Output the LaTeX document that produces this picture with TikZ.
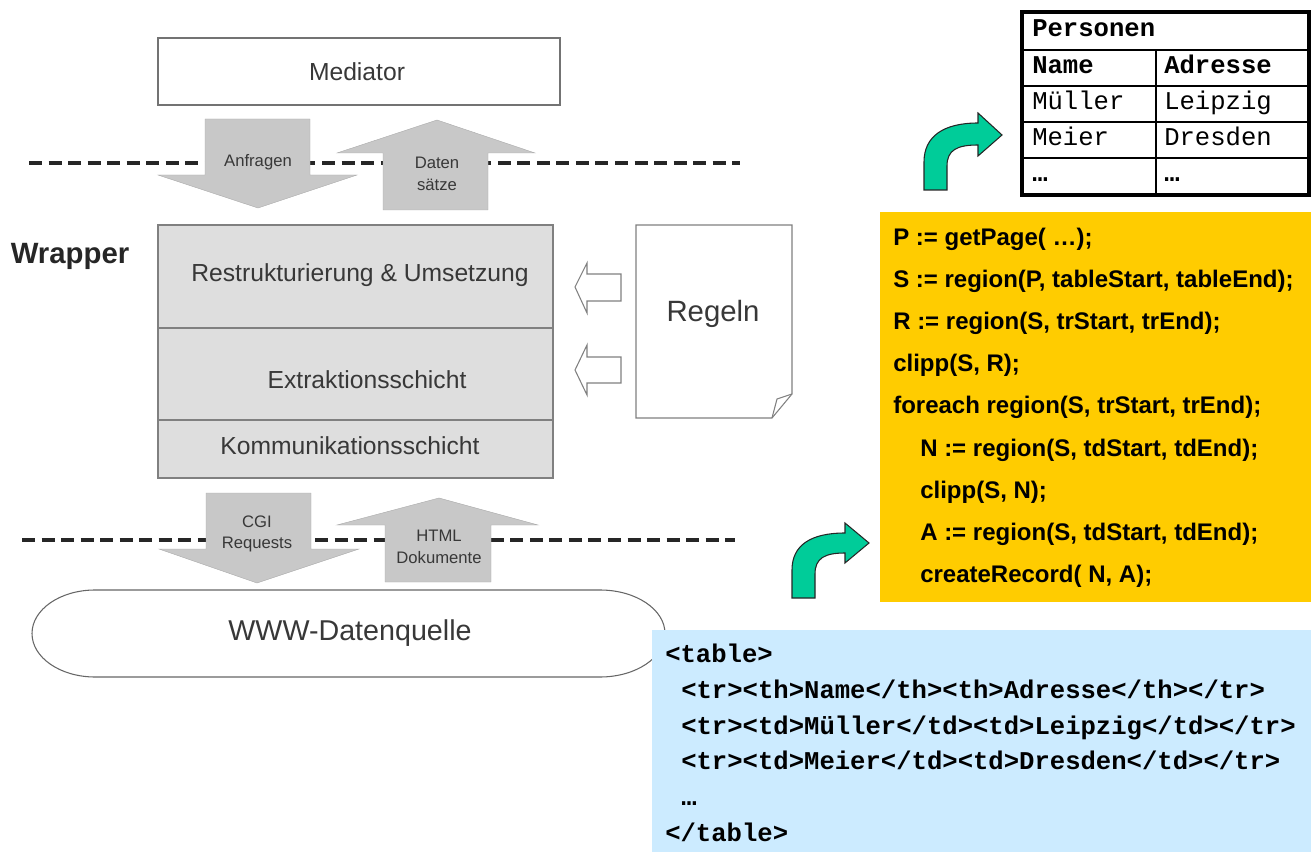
\documentclass[tikz,border=0pt]{standalone}
\usepackage{fontspec}
\setmainfont{Liberation Sans}
\setmonofont{Liberation Mono}
\definecolor{boxgray}{HTML}{DEDEDE}
\definecolor{arrowgray}{HTML}{C8C8C8}
\definecolor{codeyellow}{HTML}{FFCC00}
\definecolor{htmlblue}{HTML}{CCEBFF}
\definecolor{turngreen}{HTML}{00CC99}
\definecolor{labelgray}{HTML}{383838}
\tikzset{
  boxlabel/.style={text=labelgray,inner sep=0pt,font=\fontsize{18.5}{22}\selectfont},
  arrowlabel/.style={text=labelgray,inner sep=0pt,align=center,font=\fontsize{12.5}{16}\selectfont},
  blockarrow/.style={fill=arrowgray,draw=arrowgray!85!black,line width=0.3pt},
  hollowarrow/.style={fill=white,draw=gray,line width=0.8pt},
  turnarrow/.style={fill=turngreen,draw=black!85,line width=0.8pt},
  sepline/.style={line width=3pt,dash pattern=on 9.75pt off 4.9pt,black!85},
  codeline/.style={anchor=west,inner sep=0pt,text height=13pt,text depth=4pt,
    font=\bfseries\fontsize{18}{20}\selectfont},
  htmlline/.style={anchor=west,inner sep=0pt,text height=12pt,text depth=4pt,
    font=\ttfamily\bfseries\fontsize{19.2}{21}\selectfont},
  cell/.style={anchor=west,inner sep=0pt,text height=12pt,text depth=4pt,
    font=\ttfamily\fontsize{19.2}{21}\selectfont}
}
\begin{document}
\begin{tikzpicture}[x=0.75pt,y=-0.75pt]
\useasboundingbox (0,0) rectangle (1311,852);
% mediator and wrapper layers
\draw[gray!90!black,line width=0.8pt] (158,38) rectangle (560,105);
\node[boxlabel] (mediator) at (357,72) {Mediator};
\draw[gray,line width=0.8pt,fill=boxgray] (158,225) rectangle (553,478);
\draw[gray,line width=0.8pt] (158,328) -- (553,328) (158,420) -- (553,420);
\node[boxlabel] (restr) at (360,275) {Restrukturierung \& Umsetzung};
\node[boxlabel] (extr) at (367,380) {Extraktionsschicht};
\node[boxlabel] (komm) at (350,446) {Kommunikationsschicht};
\node[text=black!85,inner sep=0pt,font=\bfseries\fontsize{22}{26}\selectfont] (wrapper) at (70,256) {Wrapper};
% separators
\draw[sepline] (29,163) -- (740,163);
\draw[sepline] (22,540) -- (735,540);
% block arrows
\draw[blockarrow] (205,119) -- (310,119) -- (310,175) -- (357,175) -- (258,208)
  -- (158,175) -- (205,175) -- cycle;
\draw[blockarrow] (437,120) -- (535,153) -- (488,153) -- (488,210) -- (383,210)
  -- (383,153) -- (337,153) -- cycle;
\draw[blockarrow] (206,493) -- (311,493) -- (311,549) -- (359,549) -- (257,583)
  -- (159,549) -- (206,549) -- cycle;
\draw[blockarrow] (439,498) -- (538,525) -- (491,525) -- (491,582) -- (385,582)
  -- (385,525) -- (337,525) -- cycle;
\node[arrowlabel] (anfragen) at (258,162) {Anfragen};
\node[arrowlabel] (daten) at (437,174) {Daten\\sätze};
\node[arrowlabel] (cgi) at (257,534) {CGI\\Requests};
\node[arrowlabel] (html) at (439,547) {HTML\\Dokumente};
% data source
\draw[gray!80!black,line width=0.8pt] (95,590) -- (600,590)
  arc[start angle=-90,end angle=90,x radius=65,y radius=43.5] -- (95,677)
  arc[start angle=90,end angle=270,x radius=63,y radius=43.5];
\node[text=labelgray,inner sep=0pt,font=\fontsize{21.5}{24}\selectfont] (www) at (350,633) {WWW-Datenquelle};
% rules document
\draw[gray,line width=0.8pt,fill=white] (636,225) -- (792,225) -- (792,394) -- (772,418)
  -- (636,418) -- cycle;
\draw[gray,line width=0.8pt] (772,418) -- (777,399) -- (792,394);
\node[text=labelgray,inner sep=0pt,font=\fontsize{22}{26}\selectfont] (regeln) at (713,314) {Regeln};
\draw[hollowarrow] (575,287) -- (587,263) -- (587,274) -- (621,274) -- (621,301)
  -- (587,301) -- (587,313) -- cycle;
\draw[hollowarrow] (575,370) -- (587,345) -- (587,357) -- (621,357) -- (621,383)
  -- (587,383) -- (587,395) -- cycle;
% extraction program
\fill[codeyellow] (880,212) rectangle (1311,602);
\node[codeline] (c1) at (893,240) {P := getPage( …);};
\node[codeline] (c2) at (893,282) {S := region(P, tableStart, tableEnd);};
\node[codeline] (c3) at (893,324) {R := region(S, trStart, trEnd);};
\node[codeline] (c4) at (893,366) {clipp(S, R);};
\node[codeline] (c5) at (893,408) {foreach region(S, trStart, trEnd);};
\node[codeline] (c6) at (920,450) {N := region(S, tdStart, tdEnd);};
\node[codeline] (c7) at (920,492) {clipp(S, N);};
\node[codeline] (c8) at (920,534) {A := region(S, tdStart, tdEnd);};
\node[codeline] (c9) at (920,576) {createRecord( N, A);};
% html source
\fill[htmlblue] (652,630) rectangle (1311,852);
\node[htmlline] (h1) at (665,657) {<table>};
\node[htmlline] (h2) at (681,693) {<tr><th>Name</th><th>Adresse</th></tr>};
\node[htmlline] (h3) at (681,729) {<tr><td>Müller</td><td>Leipzig</td></tr>};
\node[htmlline] (h4) at (681,764) {<tr><td>Meier</td><td>Dresden</td></tr>};
\node[htmlline] (h5) at (681,800) {…};
\node[htmlline] (h6) at (665,836) {</table>};
% result table
\draw[line width=1.2pt] (1022,50) -- (1309,50) (1022,86) -- (1309,86)
  (1022,122) -- (1309,122) (1022,158) -- (1309,158) (1156,50) -- (1156,195);
\draw[line width=2.4pt] (1022,12) rectangle (1309,195);
\node[cell,font=\ttfamily\bfseries\fontsize{19.2}{21}\selectfont] (personen) at (1032,31) {Personen};
\node[cell,font=\ttfamily\bfseries\fontsize{19.2}{21}\selectfont] (name) at (1032,68) {Name};
\node[cell,font=\ttfamily\bfseries\fontsize{19.2}{21}\selectfont] (adresse) at (1164,68) {Adresse};
\node[cell] (mueller) at (1032,104) {Müller};
\node[cell] (leipzig) at (1164,104) {Leipzig};
\node[cell] (meier) at (1032,140) {Meier};
\node[cell] (dresden) at (1164,140) {Dresden};
\node[cell,font=\ttfamily\bfseries\fontsize{19.2}{21}\selectfont] (dots1) at (1032,176) {…};
\node[cell,font=\ttfamily\bfseries\fontsize{19.2}{21}\selectfont] (dots2) at (1164,176) {…};
% turn arrows
\draw[turnarrow] (924,190) -- (924,162) .. controls (924,136) and (944,123) .. (978,123)
  -- (978,113) -- (1002,135) -- (978,156) -- (978,145) .. controls (957,145) and (947,150)
  .. (947,166) -- (947,190) -- cycle;
\draw[turnarrow] (792,598) -- (792,570) .. controls (792,545) and (811,533) .. (845,533)
  -- (845,523) -- (869,543) -- (845,563) -- (845,553) .. controls (825,553) and (815,558)
  .. (815,574) -- (815,598) -- cycle;
\end{tikzpicture}
\end{document}
